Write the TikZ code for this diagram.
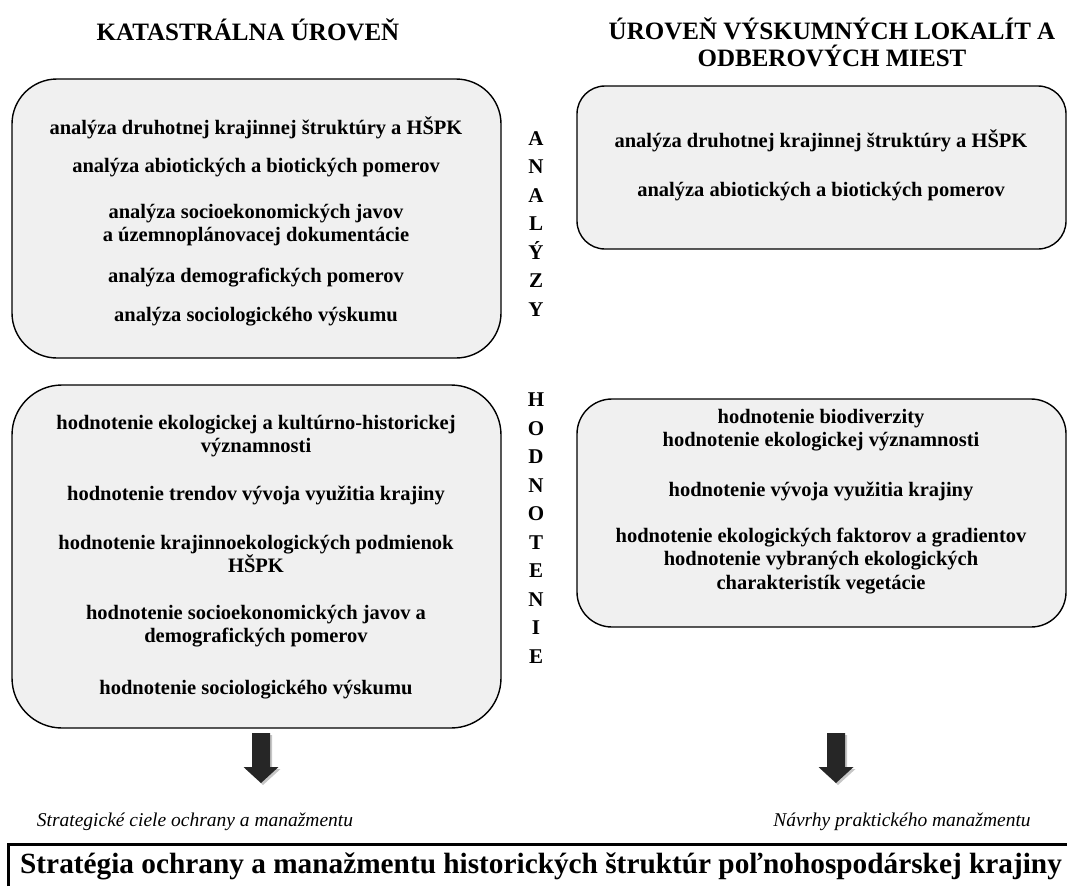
\documentclass[tikz,border=0pt]{standalone}
\usepackage{fontspec}
\setmainfont{Liberation Serif}
\definecolor{boxgray}{HTML}{F0F0F0}
\definecolor{arrowgray}{HTML}{262626}

\begin{document}
\begin{tikzpicture}[x=1pt,y=-1pt,
  panel/.style={draw=black,line width=1.4pt,fill=boxgray,inner sep=0pt},
  item/.style={font=\fontsize{20.5}{23.5}\selectfont\bfseries,align=center},
  heading/.style={font=\fontsize{25}{27}\selectfont\bfseries,align=center},
  letters/.style={font=\fontsize{21}{28.5}\selectfont\bfseries,align=center},
  goal/.style={font=\fontsize{19.5}{24}\selectfont\itshape}]

\useasboundingbox (0,0) rectangle (1067,886);

% headings
\node[heading] (katHead) at (248,30) {KATASTRÁLNA ÚROVEŇ};
\node[heading] (lokHead) at (832,42) {ÚROVEŇ VÝSKUMNÝCH LOKALÍT A\\ODBEROVÝCH MIEST};

% panels
\node[panel,rounded corners=45pt,minimum width=489pt,minimum height=279pt]
  (katAna) at (256.5,218.5) {};
\node[panel,rounded corners=28pt,minimum width=489pt,minimum height=163pt]
  (lokAna) at (821.5,167.5) {};
\node[panel,rounded corners=50pt,minimum width=489pt,minimum height=343pt]
  (katHod) at (256.5,556.5) {};
\node[panel,rounded corners=35pt,minimum width=489pt,minimum height=228pt]
  (lokHod) at (821.5,513) {};

% analyzy - katastralna
\node[item] (ka1) at (256,128) {analýza druhotnej krajinnej štruktúry a HŠPK};
\node[item] (ka2) at (256,168) {analýza abiotických a biotických pomerov};
\node[item] (ka3) at (256,225) {analýza socioekonomických javov\\a územnoplánovacej dokumentácie};
\node[item] (ka4) at (256,278) {analýza demografických pomerov};
\node[item] (ka5) at (256,317) {analýza sociologického výskumu};

% analyzy - lokality
\node[item] (la1) at (821,141) {analýza druhotnej krajinnej štruktúry a HŠPK};
\node[item] (la2) at (821,192) {analýza abiotických a biotických pomerov};

% hodnotenie - katastralna
\node[item] (kh1) at (256,436) {hodnotenie ekologickej a kultúrno-historickej\\významnosti};
\node[item] (kh2) at (256,495) {hodnotenie trendov vývoja využitia krajiny};
\node[item] (kh3) at (256,554) {hodnotenie krajinnoekologických podmienok\\HŠPK};
\node[item] (kh4) at (256,626) {hodnotenie socioekonomických javov a\\demografických pomerov};
\node[item] (kh5) at (256,690) {hodnotenie sociologického výskumu};

% hodnotenie - lokality
\node[item] (lh1) at (821,430) {hodnotenie biodiverzity\\hodnotenie ekologickej významnosti};
\node[item] (lh2) at (821,491) {hodnotenie vývoja využitia krajiny};
\node[item] (lh3) at (821,561) {hodnotenie ekologických faktorov a gradientov\\hodnotenie vybraných ekologických\\charakteristík vegetácie};

% vertical labels
\node[letters] (analyzy) at (536,224) {A\\N\\A\\L\\Ý\\Z\\Y};
\node[letters] (hodnotenie) at (536,528) {H\\O\\D\\N\\O\\T\\E\\N\\I\\E};

% block arrows
\foreach \ax in {261,836} {
  \fill[gray!45,shift={(2,2)}] (\ax-9,733) -- (\ax+9,733) -- (\ax+9,767)
    -- (\ax+17.5,767) -- (\ax,783) -- (\ax-17.5,767) -- (\ax-9,767) -- cycle;
  \fill[arrowgray] (\ax-9,733) -- (\ax+9,733) -- (\ax+9,767)
    -- (\ax+17.5,767) -- (\ax,783) -- (\ax-17.5,767) -- (\ax-9,767) -- cycle;
}

\node[goal] (katGoal) at (195,822) {Strategické ciele ochrany a manažmentu};
\node[goal] (lokGoal) at (902,822) {Návrhy praktického manažmentu};

% strategia
\draw[line width=3pt] (8,886) -- (8,844) -- (1067,844);
\node[anchor=base west,font=\fontsize{29.3}{35}\selectfont\bfseries,inner sep=0pt]
  (strategia) at (20,873) {Stratégia ochrany a manažmentu historických štruktúr poľnohospodárskej krajiny};

\end{tikzpicture}
\end{document}
